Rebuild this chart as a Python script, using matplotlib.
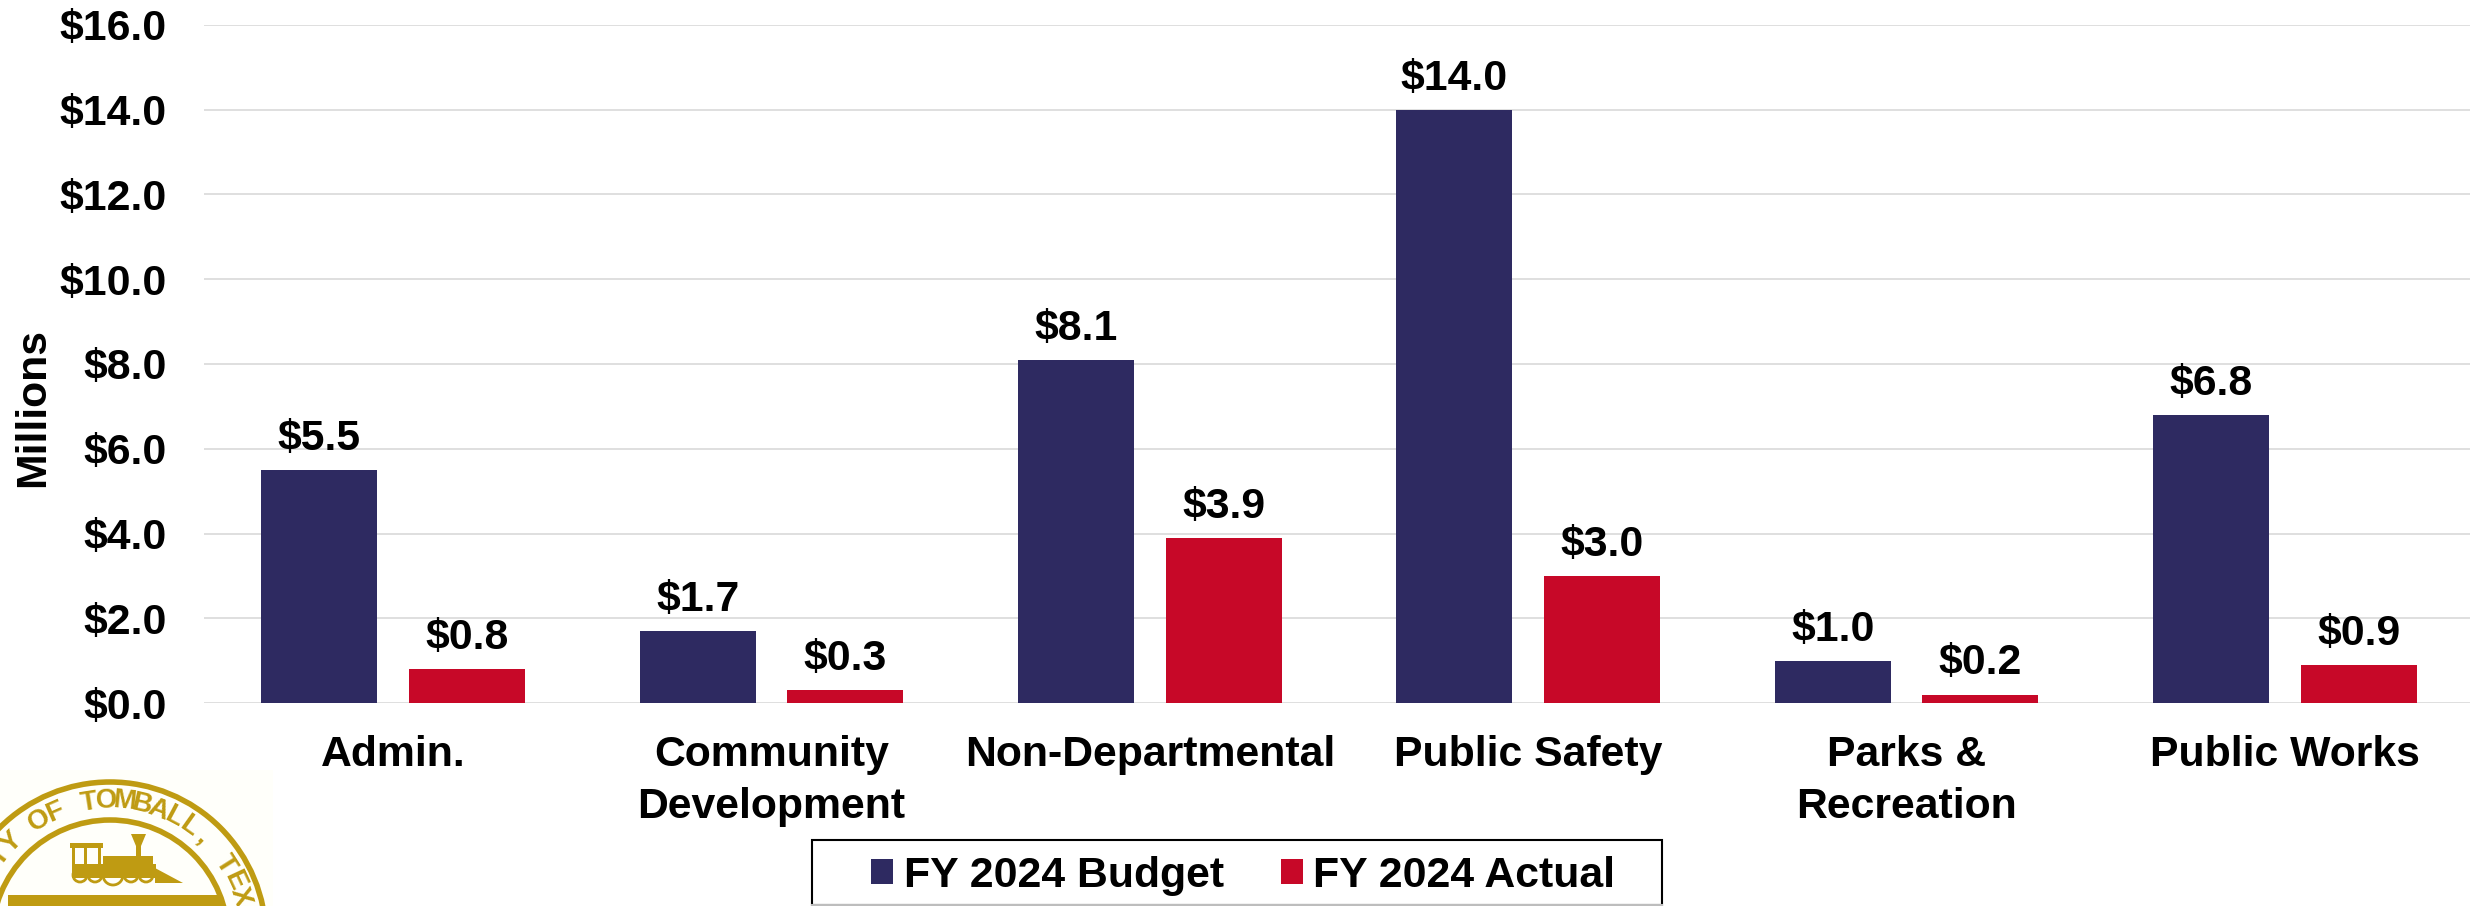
import numpy as np
import matplotlib
matplotlib.use("Agg")
import matplotlib.pyplot as plt
from matplotlib.patches import Circle, Rectangle, Polygon

categories = ["Admin.", "Community\nDevelopment", "Non-Departmental", "Public Safety", "Parks &\nRecreation", "Public Works"]
budget = [5.5, 1.7, 8.1, 14.0, 1.0, 6.8]
actual = [0.8, 0.3, 3.9, 3.0, 0.2, 0.9]
y_ticks = [0, 2, 4, 6, 8, 10, 12, 14, 16]
seal_text = "CITY OF TOMBALL, TEXAS"

NAVY = "#2e2a61"
RED = "#c70828"
GOLD = "#bf9b12"
FS = 30.8

plt.rcParams["font.family"] = ["Liberation Sans", "DejaVu Sans"]
plt.rcParams["font.weight"] = "bold"
plt.rcParams["text.parse_math"] = False

W, H = 2470, 906
fig = plt.figure(figsize=(W / 100, H / 100), dpi=100)
# the plot area runs slightly past the right edge of the picture
ax = fig.add_axes([204 / W, 1 - 703 / H, 2270 / W, 678 / H])

x = np.arange(len(categories))
bw = 0.307
b1 = ax.bar(x - 0.195, budget, bw, color=NAVY, label="FY 2024 Budget", zorder=3)
b2 = ax.bar(x + 0.195, actual, bw, color=RED, label="FY 2024 Actual", zorder=3)
ax.bar_label(b1, fmt="$%.1f", fontsize=FS, fontweight="bold", padding=8)
ax.bar_label(b2, fmt="$%.1f", fontsize=FS, fontweight="bold", padding=8)

ax.set_xlim(-0.5, 5.5)
ax.set_ylim(0, 16)
ax.set_yticks(y_ticks)
ax.set_yticklabels(["$%.1f" % v for v in y_ticks], fontsize=FS, fontweight="bold")
ax.set_xticks(x)
ax.set_xticklabels(categories, fontsize=FS, fontweight="bold", linespacing=1.38)
ax.tick_params(axis="y", length=0, pad=27)
ax.tick_params(axis="x", length=0, pad=23)
ax.grid(axis="y", color="#d9d9d9", linewidth=1.2, zorder=0)
ax.set_axisbelow(True)
for s in ax.spines.values():
    s.set_visible(False)
ax.set_ylabel("Millions", fontsize=FS, fontweight="bold")
ax.yaxis.set_label_coords(-151 / 2270, (703 - 408) / 678)

leg = fig.legend(handles=[b1, b2], loc="center left", bbox_to_anchor=(871 / W, 1 - 876 / H), ncol=2,
                 prop={"size": FS, "weight": "bold"}, frameon=False,
                 handlelength=0.52, handleheight=0.52, handletextpad=0.24,
                 columnspacing=1.34, borderpad=0, borderaxespad=0)

# seal and legend box, drawn in pixel coordinates
over = fig.add_axes([0, 0, 1, 1], zorder=-1)
over.set_xlim(0, W)
over.set_ylim(H, 0)
over.axis("off")
over.add_patch(Rectangle((812, 840), 850, 65, fill=False, ec="black", lw=1.5))
over.plot([812, 1662], [905, 905], color="#bdbdbd", lw=1.5)

cx, cy = 110, 938
over.add_patch(Rectangle((0, 770), 273, 136, color="#fffffa", lw=0))
over.add_patch(Circle((cx, cy), 156, fill=False, ec=GOLD, lw=4))
over.add_patch(Circle((cx, cy), 118, fill=False, ec=GOLD, lw=4))
over.add_patch(Rectangle((8, 895), 214, 11, color=GOLD, lw=0))
for i, ch in enumerate(seal_text):
    a = -9 + 7.4 * (i - 8)
    r = np.radians(a)
    over.text(cx + 137 * np.sin(r), cy - 137 * np.cos(r), ch, rotation=-a, fontsize=20,
              color=GOLD, ha="center", va="center", fontweight="bold")
# locomotive
over.add_patch(Rectangle((70, 843), 33, 5, color=GOLD, lw=0))
over.add_patch(Rectangle((72, 846), 3, 30, color=GOLD, lw=0))
over.add_patch(Rectangle((84, 846), 3, 18, color=GOLD, lw=0))
over.add_patch(Rectangle((98, 846), 3, 18, color=GOLD, lw=0))
over.add_patch(Rectangle((72, 864), 84, 14, color=GOLD, lw=0))
over.add_patch(Rectangle((103, 856), 50, 10, color=GOLD, lw=0))
over.add_patch(Polygon([(131, 834), (146, 834), (141, 846), (141, 868), (136, 868), (136, 846)], color=GOLD, lw=0))
over.add_patch(Polygon([(155, 883), (183, 883), (155, 868)], color=GOLD, lw=0))
for wx, wr in [(80, 7), (95, 7), (113, 10), (131, 7), (146, 7)]:
    over.add_patch(Circle((wx, 875), wr, fill=False, ec=GOLD, lw=2))

fig.savefig("out.png", dpi=100, facecolor="white")
